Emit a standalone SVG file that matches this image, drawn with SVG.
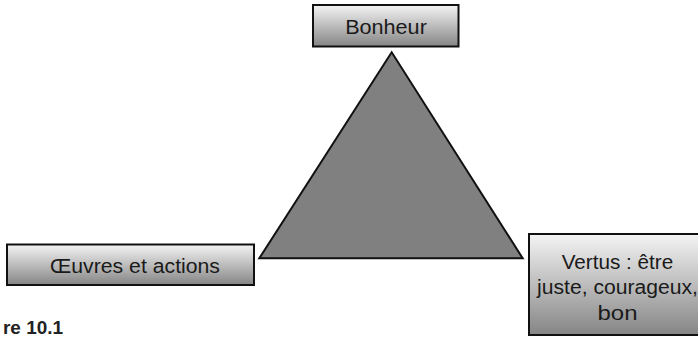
<svg xmlns="http://www.w3.org/2000/svg" width="698" height="337" viewBox="0 0 698 337">
<style>
.box{stroke:#111;stroke-width:2;fill:url(#g)}
.t{font-family:"Liberation Sans",Arial,sans-serif;font-size:20px;fill:#1a1a1a;text-anchor:middle}
.cap{font-family:"Liberation Sans",Arial,sans-serif;font-size:18px;font-weight:bold;fill:#222}
</style>
<defs>
<linearGradient id="g" x1="0" y1="0" x2="0" y2="1">
<stop offset="0" stop-color="#f4f4f4"/>
<stop offset="1" stop-color="#858585"/>
</linearGradient>
</defs>
<rect width="698" height="337" fill="#fff"/>
<g id="connectors">
<polygon points="391.7,52.3 259.3,258.3 522.7,258.3" fill="#808080" stroke="#111" stroke-width="2" stroke-linejoin="miter"/>
</g>
<g id="bonheur">
<rect class="box" x="313" y="5" width="145.5" height="41.5"/>
<text class="t" x="386" y="33.5" textLength="81.7" lengthAdjust="spacingAndGlyphs">Bonheur</text>
</g>
<g id="oeuvres">
<rect class="box" x="7" y="244.5" width="247" height="40.5"/>
<text class="t" x="135" y="272.8" textLength="170" lengthAdjust="spacingAndGlyphs">Œuvres et actions</text>
</g>
<g id="vertus">
<rect class="box" x="529" y="234" width="180" height="101"/>
<text class="t" x="617.5" y="268.5" textLength="111.6" lengthAdjust="spacingAndGlyphs">Vertus : être</text>
<text class="t" x="617.5" y="294.3" textLength="161" lengthAdjust="spacingAndGlyphs">juste, courageux,</text>
<text class="t" x="617.5" y="320.3" textLength="40" lengthAdjust="spacingAndGlyphs">bon</text>
</g>
<text class="cap" x="3" y="334" textLength="60" lengthAdjust="spacingAndGlyphs">re 10.1</text>
</svg>
